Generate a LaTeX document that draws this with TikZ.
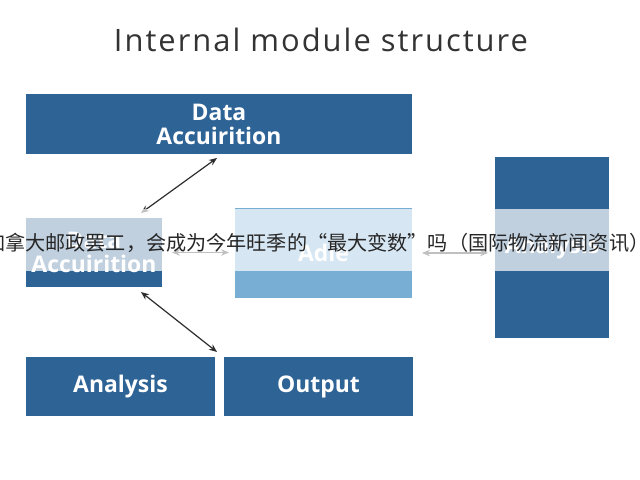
\documentclass[tikz,border=0pt]{standalone}
\usepackage{fontspec}
\setmainfont{Open Sans}
\newfontfamily\titlefont[LetterSpace=6.5]{Open Sans}
\newfontfamily\cjk{Noto Sans CJK SC}
\usetikzlibrary{arrows.meta}
\definecolor{darkblue}{RGB}{46,99,150}
\definecolor{lightblue}{RGB}{120,173,212}
\definecolor{titlegray}{RGB}{51,51,51}
\definecolor{arrowgray}{RGB}{45,45,45}
\tikzset{
  box/.style={fill=darkblue, draw=none, inner sep=0pt, outer sep=0pt, text=white,
    align=center, font=\fontsize{23}{24}\selectfont\bfseries},
  lbox/.style={box, fill=lightblue},
  arr/.style={draw=arrowgray, line width=1.2bp, {Stealth[length=8bp,width=6.5bp]}-{Stealth[length=8bp,width=6.5bp]}},
}
\begin{document}
\begin{tikzpicture}[x=1bp,y=-1bp]
\useasboundingbox[fill=white] (0,0) rectangle (640,480);
\node[text=titlegray, font=\titlefont\fontsize{31}{33}\selectfont, inner sep=0pt, anchor=base] (title) at (321,52) {Internal module structure};
\node[box, minimum width=386bp, minimum height=60bp] (top) at (219,124) {Data\\Accuirition};
\node[box, minimum width=136bp, minimum height=69bp] (acq) at (94,252.5) {Data\\Accuirition};
\node[lbox, minimum width=177bp, minimum height=89bp] (mid) at (323.5,253) {Adie};
\node[box, minimum width=114bp, minimum height=181bp] (rbox) at (552,247.5) {Analysis};
\node[box, minimum width=189bp, minimum height=59bp] (ana) at (120.5,386.5) {Analysis};
\node[box, minimum width=189bp, minimum height=59bp] (out) at (318.5,386.5) {Output};
\draw[arr] ([xshift=-2bp,yshift=-4bp]top.south) -- ([xshift=-21bp,yshift=5bp]acq.north east);
\draw[arr] ([xshift=-21bp,yshift=-5bp]acq.south east) -- ([xshift=2bp,yshift=5bp]ana.north east);
\draw[arr, shorten <=10bp, shorten >=6bp] (acq.east) -- (acq.east -| mid.west);
\draw[arr, shorten <=10bp, shorten >=7bp] (mid.east) -- (mid.east -| rbox.west);
\fill[white, opacity=0.7] (0,209) rectangle (640,271);
\node[font=\cjk\fontsize{20.2}{22}\selectfont, text=black!85, inner sep=0pt, anchor=west] (sub) at (-15,243) {加拿大邮政罢工，会成为今年旺季的“最大变数”吗（国际物流新闻资讯）};
\end{tikzpicture}
\end{document}
